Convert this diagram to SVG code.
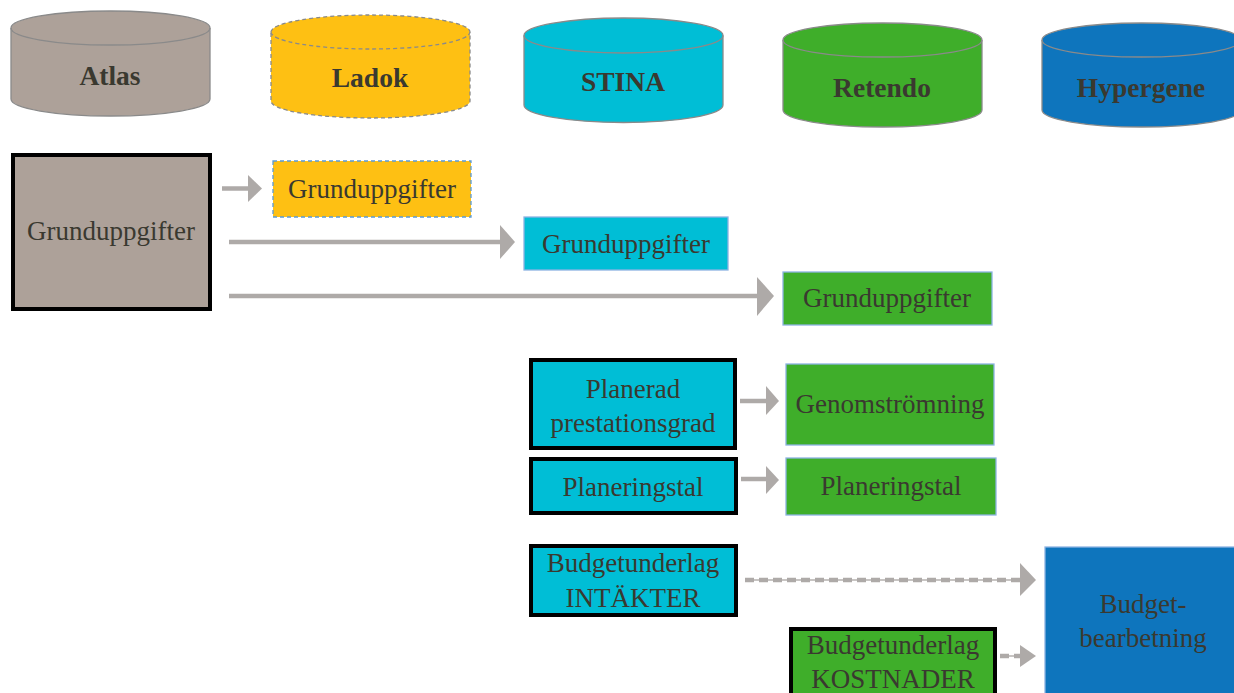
<svg xmlns="http://www.w3.org/2000/svg" width="1234" height="693" viewBox="0 0 1234 693">
<style>
.hd{font-family:"Liberation Serif","Times New Roman",serif;font-weight:bold;font-size:27.5px;fill:#3a3930;text-anchor:middle}
.tx{font-family:"Liberation Serif","Times New Roman",serif;font-size:27px;fill:#3a3930;text-anchor:middle}
.cyl{stroke:#8a8a8a;stroke-width:1.3}
.thick{stroke:#000;stroke-width:4}
.thin{stroke:#8db3e2;stroke-width:1.3}
.ln{stroke:#aeaaa8;stroke-width:4.5;fill:none}
.hd2{fill:#aeaaa8}
.gray{fill:#ada199}.yel{fill:#fec013}.cy{fill:#00bed6}.gr{fill:#3fae2a}.bl{fill:#0e75bd}
</style>
<rect width="1234" height="693" fill="#fff"/>
<g id="atlas">
<path class="cyl gray" d="M11,28 A99.5,17 0 0 1 210,28 V99 A99.5,17 0 0 1 11,99 Z"/>
<path class="cyl" fill="none" d="M11,28 A99.5,17 0 0 0 210,28"/>
<text class="hd" x="110" y="85">Atlas</text>
</g>
<g id="ladok">
<path class="cyl yel" stroke-dasharray="4 3" d="M271,32 A99.5,17 0 0 1 470,32 V101 A99.5,17 0 0 1 271,101 Z"/>
<path class="cyl" fill="none" stroke-dasharray="4 3" d="M271,32 A99.5,17 0 0 0 470,32"/>
<text class="hd" x="370" y="87">Ladok</text>
</g>
<g id="stina">
<path class="cyl cy" d="M524,35.5 A99.5,17.5 0 0 1 723,35.5 V105 A99.5,17.5 0 0 1 524,105 Z"/>
<path class="cyl" fill="none" d="M524,35.5 A99.5,17.5 0 0 0 723,35.5"/>
<text class="hd" x="623" y="91">STINA</text>
</g>
<g id="retendo">
<path class="cyl gr" d="M783,40 A99.5,17 0 0 1 982,40 V110 A99.5,17 0 0 1 783,110 Z"/>
<path class="cyl" fill="none" d="M783,40 A99.5,17 0 0 0 982,40"/>
<text class="hd" x="882" y="97">Retendo</text>
</g>
<g id="hypergene">
<path class="cyl bl" d="M1042,40 A99.5,17 0 0 1 1241,40 V110 A99.5,17 0 0 1 1042,110 Z"/>
<path class="cyl" fill="none" d="M1042,40 A99.5,17 0 0 0 1241,40"/>
<text class="hd" x="1141" y="97">Hypergene</text>
</g>
<g id="atlas-grund">
<rect class="thick gray" x="13" y="155" width="197" height="154"/>
<text class="tx" x="111" y="240">Grunduppgifter</text>
</g>
<g id="ladok-grund">
<rect class="yel" x="273" y="161" width="198" height="56" stroke="#5b9bd5" stroke-width="1.3" stroke-dasharray="4 3"/>
<text class="tx" x="372" y="198">Grunduppgifter</text>
</g>
<g id="stina-grund">
<rect class="thin cy" x="524" y="217" width="204" height="53"/>
<text class="tx" x="626" y="253">Grunduppgifter</text>
</g>
<g id="retendo-grund">
<rect class="thin gr" x="783" y="272" width="209" height="53"/>
<text class="tx" x="887" y="307">Grunduppgifter</text>
</g>
<g id="planerad">
<rect class="thick cy" x="531" y="360" width="204" height="88"/>
<text class="tx" x="633" y="398">Planerad</text>
<text class="tx" x="633" y="432">prestationsgrad</text>
</g>
<g id="genomstromning">
<rect class="thin gr" x="786" y="364" width="208" height="81"/>
<text class="tx" x="890" y="413">Genomströmning</text>
</g>
<g id="planeringstal-stina">
<rect class="thick cy" x="531" y="459" width="205" height="54"/>
<text class="tx" x="633" y="496">Planeringstal</text>
</g>
<g id="planeringstal-retendo">
<rect class="thin gr" x="786" y="458" width="210" height="57"/>
<text class="tx" x="891" y="495">Planeringstal</text>
</g>
<g id="intakter">
<rect class="thick cy" x="531" y="546" width="205" height="69"/>
<text class="tx" x="633" y="572">Budgetunderlag</text>
<text class="tx" x="633" y="607">INTÄKTER</text>
</g>
<g id="kostnader">
<rect class="thick gr" x="791" y="629" width="204" height="70"/>
<text class="tx" x="893" y="654">Budgetunderlag</text>
<text class="tx" x="893" y="688">KOSTNADER</text>
</g>
<g id="budgetbearbetning">
<rect class="thin bl" x="1045" y="547" width="200" height="160"/>
<text class="tx" x="1143" y="613">Budget-</text>
<text class="tx" x="1143" y="647">bearbetning</text>
</g>
<g id="connectors">
<line class="ln" x1="222" y1="188.5" x2="250" y2="188.5"/>
<polygon class="hd2" points="248,175 262,188.5 248,202"/>
<line class="ln" x1="229" y1="242" x2="502" y2="242"/>
<polygon class="hd2" points="500,225 515,242 500,259"/>
<line class="ln" x1="229" y1="296" x2="759" y2="296"/>
<polygon class="hd2" points="757,277 774,296 757,316"/>
<line class="ln" x1="740" y1="401" x2="768" y2="401"/>
<polygon class="hd2" points="766,386 779,401 766,415"/>
<line class="ln" x1="741" y1="479" x2="768" y2="479"/>
<polygon class="hd2" points="766,466 779,480 766,494"/>
<line stroke="#b4b0ae" stroke-width="1.5" x1="745" y1="580" x2="1022" y2="580"/>
<line class="ln" stroke-dasharray="9 5" x1="745" y1="580" x2="1022" y2="580"/>
<polygon class="hd2" points="1020,563 1036,580 1020,596"/>
<line stroke="#b4b0ae" stroke-width="1.5" x1="1000" y1="656" x2="1022" y2="656"/>
<line class="ln" stroke-dasharray="9 5" x1="1000" y1="656" x2="1022" y2="656"/>
<polygon class="hd2" points="1020,645 1036,656 1020,667"/>
</g>
</svg>
